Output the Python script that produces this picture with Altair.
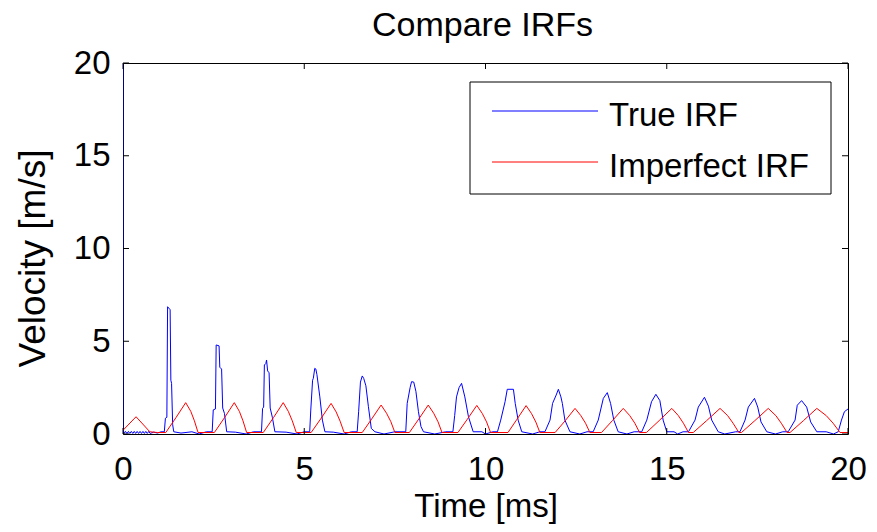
import altair as alt
import pandas as pd

series_names = ["True IRF", "Imperfect IRF"]
series_colors = ["#0000ff", "#ff0000"]

blue_t = [
    0.00, 0.00, 0.03, 0.07, 0.11, 0.15, 0.19, 0.23, 0.27, 0.31, 0.35, 0.39, 0.43, 0.47, 0.51,
    0.55, 0.59, 0.63, 0.67, 0.71, 0.75, 0.85, 0.95, 1.05, 1.14,
    1.17, 1.21, 1.23, 1.30, 1.32, 1.34, 1.37, 1.40, 1.60, 1.90, 2.10, 2.30,
    2.46, 2.49, 2.55, 2.57, 2.65, 2.67, 2.72, 2.75, 2.80, 2.86, 3.10, 3.40, 3.60,
    3.82, 3.85, 3.88, 3.90, 3.94, 3.96, 3.99, 4.03, 4.06, 4.12, 4.19, 4.50, 4.80, 5.00,
    5.15, 5.18, 5.23, 5.25, 5.29, 5.32, 5.35, 5.43, 5.50, 5.57, 5.80, 6.10, 6.30,
    6.46, 6.50, 6.55, 6.60, 6.64, 6.70, 6.77, 6.85, 6.95, 7.20, 7.50,
    7.80, 7.84, 7.92, 7.96, 8.02, 8.08, 8.15, 8.22, 8.29, 8.60, 8.90,
    9.10, 9.15, 9.20, 9.27, 9.34, 9.43, 9.53, 9.66, 9.90, 10.00, 10.20,
    10.33, 10.42, 10.54, 10.60, 10.77, 10.82, 10.90, 11.00, 11.30, 11.50,
    11.64, 11.78, 11.85, 11.95, 12.01, 12.08, 12.12, 12.19, 12.33, 12.60, 12.80,
    12.97, 13.11, 13.25, 13.36, 13.45, 13.54, 13.66, 13.90, 14.10,
    14.31, 14.45, 14.58, 14.70, 14.81, 14.90, 15.00, 15.20, 15.30, 15.45,
    15.60, 15.78, 15.87, 16.04, 16.15, 16.24, 16.42, 16.60, 16.90,
    17.02, 17.16, 17.25, 17.42, 17.51, 17.60, 17.76, 18.00, 18.20,
    18.35, 18.54, 18.60, 18.72, 18.86, 18.97, 19.14, 19.40, 19.60,
    19.73, 19.82, 19.90, 20.00,
]
blue_v = [
    22.0, 0.30, 0.03, 0.14, 0.03, 0.14, 0.03, 0.14, 0.03, 0.14, 0.03, 0.14, 0.03, 0.14, 0.03,
    0.14, 0.03, 0.14, 0.03, 0.14, 0.03, 0.10, 0.05, 0.12, 0.12,
    0.85, 0.90, 6.86, 6.70, 2.90, 2.73, 0.50, 0.12, 0.05, 0.12, 0.00, 0.12,
    0.12, 1.30, 1.35, 4.80, 4.75, 3.60, 3.50, 1.40, 1.10, 0.12, 0.10, 0.00, 0.12,
    0.12, 1.38, 1.45, 3.72, 3.80, 3.99, 3.40, 3.30, 1.40, 0.90, 0.12, 0.10, 0.00, 0.12,
    0.12, 1.29, 2.90, 3.00, 3.54, 3.50, 3.20, 2.00, 0.75, 0.12, 0.10, 0.00, 0.12,
    0.12, 1.20, 2.80, 3.13, 3.00, 2.60, 1.47, 0.30, 0.12, 0.00, 0.12,
    0.12, 1.65, 2.50, 2.82, 2.80, 2.30, 1.20, 0.40, 0.12, 0.00, 0.12,
    0.12, 1.00, 2.00, 2.50, 2.73, 2.00, 0.93, 0.12, 0.12, 0.00, 0.12,
    0.12, 0.75, 1.74, 2.41, 2.41, 1.65, 0.75, 0.12, 0.00, 0.12,
    0.12, 0.75, 1.65, 2.10, 2.41, 2.00, 1.65, 0.75, 0.12, 0.00, 0.12,
    0.12, 0.75, 1.92, 2.23, 1.65, 0.75, 0.12, 0.00, 0.12,
    0.12, 0.75, 1.74, 2.14, 1.80, 0.75, 0.12, 0.12, 0.00, 0.12,
    0.12, 0.75, 1.45, 1.98, 1.50, 0.75, 0.12, 0.00, 0.12,
    0.12, 0.75, 1.45, 1.92, 1.45, 0.65, 0.12, 0.00, 0.12,
    0.12, 0.75, 1.55, 1.80, 1.45, 0.65, 0.12, 0.12, 0.00,
    0.12, 0.75, 1.20, 1.35,
]

red_t = [
    0.00, 0.36, 0.74, 0.95,
    1.18, 1.46, 1.73, 1.87, 1.97, 2.07,
    2.52, 2.80, 3.07, 3.21, 3.31, 3.41,
    3.87, 4.15, 4.42, 4.56, 4.67, 4.78,
    5.19, 5.47, 5.74, 5.88, 5.99, 6.10,
    6.60, 6.86, 7.12, 7.27, 7.39, 7.50,
    7.90, 8.16, 8.42, 8.57, 8.69, 8.80,
    9.24, 9.50, 9.76, 9.91, 10.03, 10.14,
    10.62, 10.87, 11.12, 11.27, 11.39, 11.50,
    11.92, 12.20, 12.47, 12.63, 12.76, 12.88,
    13.20, 13.50, 13.80, 13.98, 14.12, 14.25,
    14.44, 14.79, 15.14, 15.32, 15.46, 15.60,
    15.73, 16.10, 16.47, 16.68, 16.83, 16.99,
    17.06, 17.43, 17.80, 18.01, 18.16, 18.32,
    18.40, 18.77, 19.14, 19.40, 19.59, 19.78, 20.00,
]
red_v = [
    0.20, 0.93, 0.12, 0.08,
    0.08, 0.88, 1.69, 1.22, 0.71, 0.08,
    0.08, 0.88, 1.69, 1.22, 0.71, 0.08,
    0.08, 0.88, 1.69, 1.22, 0.71, 0.08,
    0.08, 0.86, 1.65, 1.19, 0.69, 0.08,
    0.08, 0.81, 1.56, 1.12, 0.66, 0.08,
    0.08, 0.81, 1.56, 1.12, 0.66, 0.08,
    0.08, 0.80, 1.54, 1.11, 0.65, 0.08,
    0.08, 0.80, 1.53, 1.10, 0.64, 0.08,
    0.08, 0.72, 1.38, 0.99, 0.58, 0.08,
    0.08, 0.72, 1.38, 0.99, 0.58, 0.08,
    0.08, 0.72, 1.38, 0.99, 0.58, 0.08,
    0.08, 0.72, 1.38, 0.99, 0.58, 0.08,
    0.08, 0.72, 1.38, 0.99, 0.58, 0.08,
    0.08, 0.72, 1.38, 0.99, 0.58, 0.08, 0.08,
]

x_ticks = [0, 5, 10, 15, 20]
y_ticks = [0, 5, 10, 15, 20]

W, H = 725, 371
FONT = "Liberation Sans"
FS = 33

blue_df = pd.DataFrame({"t": blue_t, "v": blue_v})
red_df = pd.DataFrame({"t": red_t, "v": red_v})

xscale = alt.Scale(domain=[0, 20], nice=False, zero=False)
yscale = alt.Scale(domain=[0, 20], nice=False, zero=False)

x_axis = alt.Axis(
    values=x_ticks, format="d", title="Time [ms]", ticks=False, tickSize=0,
    domain=False, grid=False, labelPadding=45, labelBaseline="alphabetic",
    labelFlush=False, labelOverlap=False, titleY=82, titleBaseline="alphabetic",
    labelFont=FONT, labelFontSize=FS, labelColor="black",
    titleFont=FONT, titleFontSize=FS, titleFontWeight="normal", titleColor="black",
)
y_axis = alt.Axis(
    values=y_ticks, format="d", title="Velocity [m/s]", ticks=False, tickSize=0,
    domain=False, grid=False, labelPadding=13, labelFlush=False, labelOverlap=False,
    titleX=-79, titleY=195, titleBaseline="alphabetic", titleAlign="center",
    labelFont=FONT, labelFontSize=FS, labelColor="black",
    titleFont=FONT, titleFontSize=37, titleFontWeight="normal", titleColor="black",
)

X = alt.X("t:Q", scale=xscale, axis=x_axis)
Y = alt.Y("v:Q", scale=yscale, axis=y_axis)

blue_line = alt.Chart(blue_df).transform_window(index="row_number()").mark_line(
    color=series_colors[0], strokeWidth=1, clip=True
).encode(x=X, y=Y, order="index:Q")

red_line = alt.Chart(red_df).transform_window(index="row_number()").mark_line(
    color=series_colors[1], strokeWidth=1, clip=True
).encode(x=X, y=Y, order="index:Q")

xt_df = pd.DataFrame({"t": x_ticks})
yt_df = pd.DataFrame({"v": y_ticks})
TL = 6
ticks_bottom = alt.Chart(xt_df).mark_rule(color="black", strokeWidth=1).encode(
    x=X, y=alt.value(H), y2=alt.value(H - TL))
ticks_top = alt.Chart(xt_df).mark_rule(color="black", strokeWidth=1).encode(
    x=X, y=alt.value(0), y2=alt.value(TL))
ticks_left = alt.Chart(yt_df).mark_rule(color="black", strokeWidth=1).encode(
    y=Y, x=alt.value(0), x2=alt.value(TL))
ticks_right = alt.Chart(yt_df).mark_rule(color="black", strokeWidth=1).encode(
    y=Y, x=alt.value(W), x2=alt.value(W - TL))

one = pd.DataFrame({"a": [0]})
legend_box = alt.Chart(one).mark_rect(fill="white", stroke="black", strokeWidth=1).encode(
    x=alt.value(347), x2=alt.value(708), y=alt.value(19), y2=alt.value(131))

legend_layers = [legend_box]
for i, name in enumerate(series_names):
    legend_layers.append(
        alt.Chart(one).mark_rule(color=series_colors[i], strokeWidth=1).encode(
            x=alt.value(369), x2=alt.value(475), y=alt.value(48 + 51 * i))
    )
    legend_layers.append(
        alt.Chart(one).mark_text(align="left", baseline="alphabetic", font=FONT,
                                 fontSize=FS, color="black").encode(
            x=alt.value(486), y=alt.value(63 + 51 * i), text=alt.value(name))
    )

chart = alt.layer(
    blue_line, red_line, ticks_bottom, ticks_top, ticks_left, ticks_right, *legend_layers
).properties(
    width=W, height=H,
    background="white",
    padding={"left": 123, "top": 63, "right": 29, "bottom": 98},
    autosize=alt.AutoSizeParams(type="none"),
    title=alt.TitleParams("Compare IRFs", font=FONT, fontSize=34, fontWeight="normal",
                          color="black", anchor="middle", frame="group", offset=4, dx=-3),
).configure_view(
    stroke="black", strokeWidth=1, fill="white"
)

chart.save("out.html", embed_options={"renderer": "svg", "actions": False})
